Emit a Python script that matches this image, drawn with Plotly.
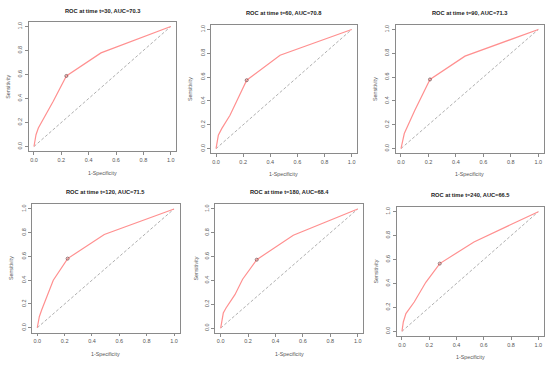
import plotly.graph_objects as go

times = [30, 60, 90, 120, 180, 240]
aucs = [70.3, 70.8, 71.3, 71.5, 68.4, 66.5]

fpr_t30 = [0.0, 0.008, 0.015, 0.032, 0.068, 0.141, 0.237, 0.49, 1.0]
tpr_t30 = [0.0, 0.05, 0.098, 0.154, 0.224, 0.377, 0.588, 0.78, 1.0]
fpr_t60 = [0.0, 0.008, 0.017, 0.042, 0.103, 0.226, 0.472, 1.0]
tpr_t60 = [0.0, 0.06, 0.112, 0.168, 0.28, 0.574, 0.784, 1.0]
fpr_t90 = [0.0, 0.01, 0.024, 0.1, 0.211, 0.466, 1.0]
tpr_t90 = [0.0, 0.06, 0.126, 0.32, 0.58, 0.776, 1.0]
fpr_t120 = [0.0, 0.008, 0.015, 0.032, 0.117, 0.222, 0.49, 1.0]
tpr_t120 = [0.0, 0.05, 0.093, 0.149, 0.40, 0.582, 0.785, 1.0]
fpr_t180 = [0.0, 0.01, 0.019, 0.039, 0.104, 0.16, 0.263, 0.53, 1.0]
tpr_t180 = [0.0, 0.06, 0.126, 0.168, 0.28, 0.41, 0.574, 0.78, 1.0]
fpr_t240 = [0.0, 0.005, 0.01, 0.029, 0.09, 0.175, 0.277, 0.528, 1.0]
tpr_t240 = [0.0, 0.04, 0.078, 0.148, 0.245, 0.41, 0.566, 0.747, 1.0]

cut_fpr = [0.237, 0.226, 0.211, 0.222, 0.263, 0.277]
cut_tpr = [0.588, 0.574, 0.58, 0.582, 0.574, 0.566]

tick_vals = [0.0, 0.2, 0.4, 0.6, 0.8, 1.0]
tick_text = ["0.0", "0.2", "0.4", "0.6", "0.8", "1.0"]

fprs = [fpr_t30, fpr_t60, fpr_t90, fpr_t120, fpr_t180, fpr_t240]
tprs = [tpr_t30, tpr_t60, tpr_t90, tpr_t120, tpr_t180, tpr_t240]

W, H = 550, 366
# panel boxes in pixels: left, right, top, bottom
boxes = [
    (28.5, 176.2, 21.7, 151.3),
    (210.6, 357.1, 24.7, 153.4),
    (395.5, 543.8, 24.7, 153.3),
    (31.8, 179.5, 204.2, 332.5),
    (215.2, 363.2, 204.2, 332.8),
    (396.5, 543.8, 206.9, 336.1),
]
title_y = [10.7, 12.7, 12.7, 191.7, 191.7, 195.0]
xlab_y = [173.3, 174.5, 174.5, 354.0, 354.0, 357.0]
ylab_x = [7.3, 190.0, 375.0, 11.7, 195.0, 375.0]

fig = go.Figure()
annotations = []
layout = {}
font_family = "Liberation Sans, Arial, sans-serif"
for i in range(6):
    l, r, t, b = boxes[i]
    xa = "x" if i == 0 else f"x{i+1}"
    ya = "y" if i == 0 else f"y{i+1}"
    fig.add_trace(go.Scatter(x=[0, 1], y=[0, 1], xaxis=xa, yaxis=ya, mode="lines",
                             line=dict(color="#9a9a9a", width=0.8, dash="3px,2px"),
                             showlegend=False, hoverinfo="skip"))
    fig.add_trace(go.Scatter(x=fprs[i], y=tprs[i], xaxis=xa, yaxis=ya, mode="lines",
                             line=dict(color="#ff9090", width=1.2),
                             showlegend=False))
    fig.add_trace(go.Scatter(x=[cut_fpr[i]], y=[cut_tpr[i]], xaxis=xa, yaxis=ya, mode="markers",
                             marker=dict(symbol="circle-open", size=3, color="#7a5050",
                                         line=dict(width=0.8)),
                             showlegend=False))
    axcommon = dict(range=[-0.04, 1.04], showgrid=False, zeroline=False, showline=True,
                    mirror=True, linecolor="#8a8a8a", linewidth=0.8, ticks="outside",
                    ticklen=3, tickwidth=0.7, tickcolor="#8a8a8a", tickvals=tick_vals,
                    ticktext=tick_text, tickfont=dict(size=5.5, color="#555555", family=font_family),
                    fixedrange=True)
    xkey = "xaxis" if i == 0 else f"xaxis{i+1}"
    ykey = "yaxis" if i == 0 else f"yaxis{i+1}"
    layout[xkey] = dict(axcommon, domain=[l / W, r / W], anchor=ya)
    layout[ykey] = dict(axcommon, domain=[1 - b / H, 1 - t / H], anchor=xa, tickangle=-90)
    cx = (l + r) / 2
    cy = (t + b) / 2
    annotations.append(dict(text=f"<b>ROC at time t={times[i]}, AUC={aucs[i]}</b>",
                            x=cx / W, y=1 - title_y[i] / H, xref="paper", yref="paper",
                            showarrow=False, xanchor="center", yanchor="middle",
                            font=dict(size=5.7, color="#222222", family=font_family)))
    annotations.append(dict(text="1-Specificity", x=cx / W, y=1 - xlab_y[i] / H,
                            xref="paper", yref="paper", showarrow=False,
                            xanchor="center", yanchor="middle",
                            font=dict(size=5.3, color="#555555", family=font_family)))
    annotations.append(dict(text="Sensitivity", x=ylab_x[i] / W, y=1 - cy / H,
                            xref="paper", yref="paper", showarrow=False, textangle=-90,
                            xanchor="center", yanchor="middle",
                            font=dict(size=5.3, color="#555555", family=font_family)))

fig.update_layout(width=W, height=H, margin=dict(l=0, r=0, t=0, b=0),
                  paper_bgcolor="white", plot_bgcolor="white",
                  annotations=annotations, **layout)
fig.write_html("out.html", config={"displayModeBar": False},
               post_script="document.body.style.margin='0';document.body.style.padding='0';document.body.style.overflow='hidden';")
